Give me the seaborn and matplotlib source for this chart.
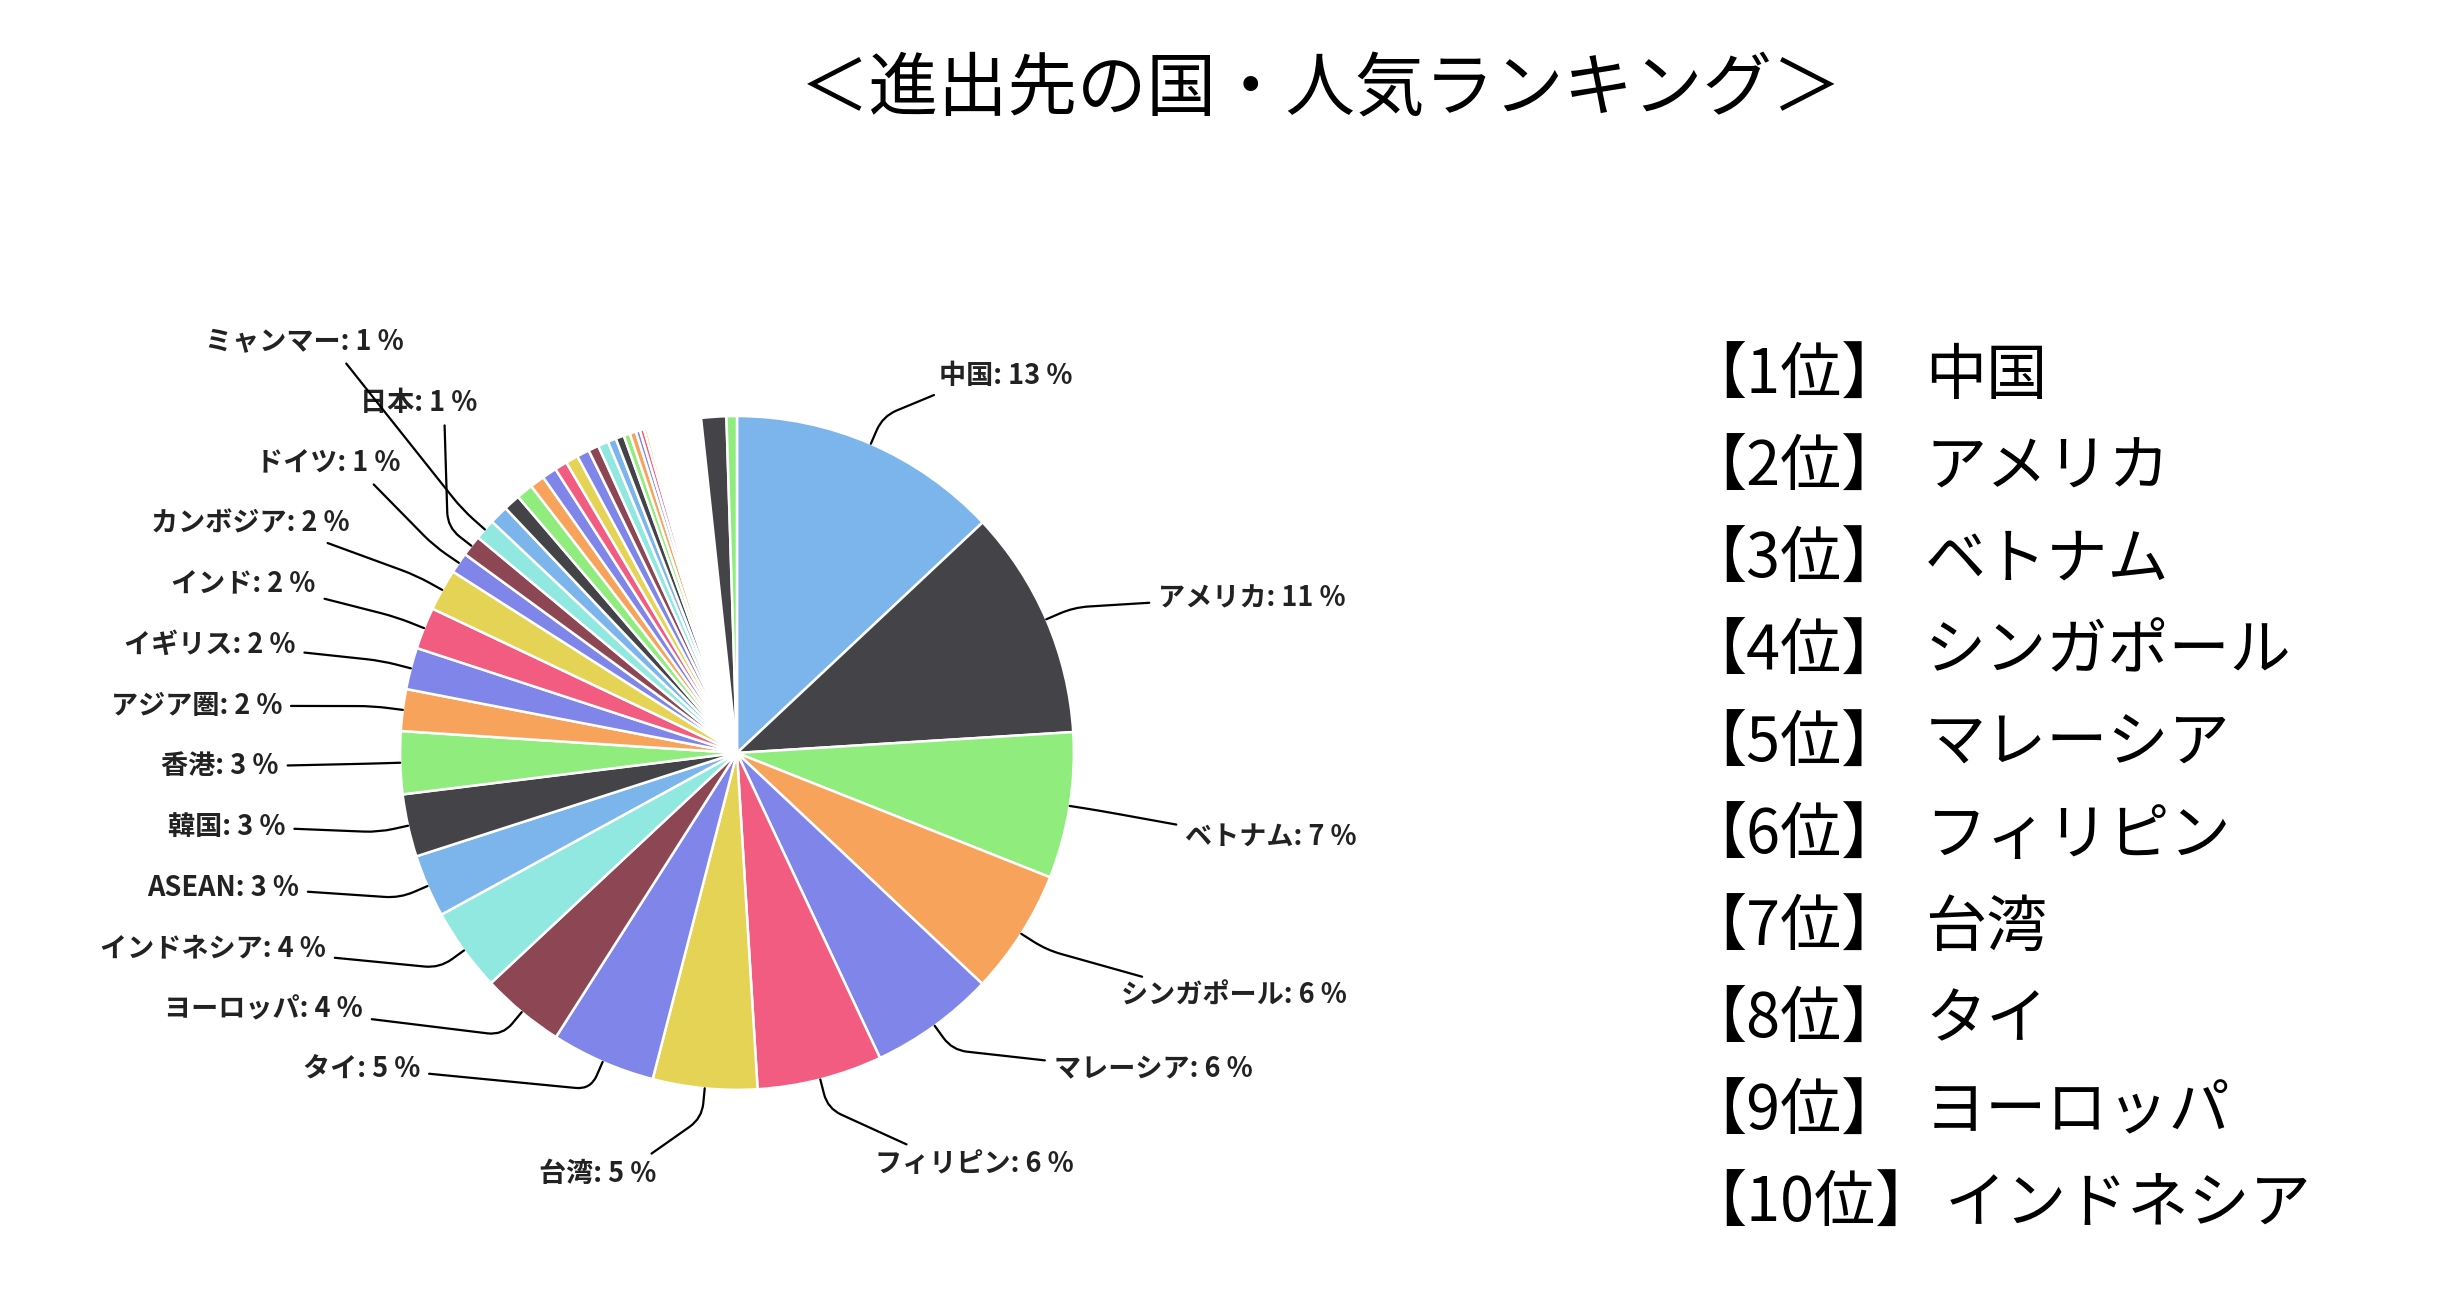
import numpy as np
import matplotlib.pyplot as plt
import seaborn as sns

sns.set_theme(style="white")
plt.rcParams['font.family'] = ['Noto Sans CJK JP', 'DejaVu Sans']

# named slices (clockwise from top)
countries = ["中国", "アメリカ", "ベトナム", "シンガポール", "マレーシア", "フィリピン", "台湾", "タイ",
             "ヨーロッパ", "インドネシア", "ASEAN", "韓国", "香港", "アジア圏", "イギリス", "インド",
             "カンボジア", "ドイツ", "日本", "ミャンマー"]
shares = [13, 11, 7, 6, 6, 6, 5, 5, 4, 4, 3, 3, 3, 2, 2, 2, 2, 1, 1, 1]
# unlabeled small slices, blank gap, last two slices
tiny_shares = [0.9, 0.8, 0.8, 0.7, 0.7, 0.6, 0.6, 0.6, 0.5, 0.5, 0.4, 0.4, 0.3, 0.3,
               0.2, 0.2, 0.15, 0.1, 0.1, 0.1]
gap_share = 2.3
tail_shares = [1.2, 0.5]

ranking = ["中国", "アメリカ", "ベトナム", "シンガポール", "マレーシア", "フィリピン",
           "台湾", "タイ", "ヨーロッパ", "インドネシア"]

palette = ["#7cb5ec", "#434348", "#90ed7d", "#f7a35c", "#8085e9", "#f15c80",
           "#e4d354", "#8085e9", "#8d4654", "#91e8e1"]

# label anchor positions (units of pie radius)
label_pos = {
    "中国": (0.60, 1.12, "left"), "アメリカ": (1.25, 0.46, "left"), "ベトナム": (1.33, -0.25, "left"),
    "シンガポール": (1.14, -0.72, "left"), "マレーシア": (0.94, -0.94, "left"),
    "フィリピン": (0.41, -1.22, "left"), "台湾": (-0.24, -1.25, "right"),
    "タイ": (-0.94, -0.94, "right"), "ヨーロッパ": (-1.11, -0.76, "right"),
    "インドネシア": (-1.22, -0.58, "right"), "ASEAN": (-1.30, -0.40, "right"),
    "韓国": (-1.34, -0.22, "right"), "香港": (-1.36, -0.04, "right"),
    "アジア圏": (-1.35, 0.14, "right"), "イギリス": (-1.31, 0.32, "right"),
    "インド": (-1.25, 0.50, "right"), "カンボジア": (-1.15, 0.68, "right"),
    "ドイツ": (-1.00, 0.86, "right"), "日本": (-0.77, 1.04, "right"),
    "ミャンマー": (-0.99, 1.22, "right"),
}

values = shares + tiny_shares + [gap_share] + tail_shares
n_col = len(shares) + len(tiny_shares)
colors = [palette[i % 10] for i in range(n_col)] + ["white"] + [palette[1], palette[2]]

fig = plt.figure(figsize=(24.46, 13.02), dpi=100)
ax = fig.add_axes([0.0258, 0.0077, 0.551, 0.828])
wedges, _ = ax.pie(values, colors=colors, startangle=90, counterclock=False, radius=1.0,
                   wedgeprops=dict(edgecolor="white", linewidth=1.8))
ax.set_xlim(-2, 2)
ax.set_ylim(-1.6, 1.6)
ax.set_aspect("equal")
ax.axis("off")

for name, val, w in zip(countries, shares, wedges):
    theta = np.deg2rad((w.theta1 + w.theta2) / 2)
    x, y, ha = label_pos[name]
    angA = 180 if ha == "left" else 0
    ax.annotate(f"{name}: {val} %", xy=(np.cos(theta), np.sin(theta)), xytext=(x, y),
                ha=ha, va="center", fontsize=19.5, fontweight="bold", color="#222222",
                arrowprops=dict(arrowstyle="-", color="black", lw=1.6, shrinkA=4, shrinkB=0,
                                connectionstyle=f"arc,angleA={angA},angleB={np.rad2deg(theta):.1f},armA=25,armB=30,rad=15"))

fig.text(0.54, 0.931, "＜進出先の国・人気ランキング＞", ha="center", va="center", fontsize=50, color="black")

for i, name in enumerate(ranking):
    y = 1 - (240 + i * 58.7) * 1.568 / 1302
    fig.text(0.689, y, f"【{i + 1}位】", ha="left", va="center", fontsize=44, color="black")
    xname = 0.787 if i < 9 else 0.795
    fig.text(xname, y, name, ha="left", va="center", fontsize=44, color="black")

fig.savefig("out.png", dpi=100, facecolor="white")
